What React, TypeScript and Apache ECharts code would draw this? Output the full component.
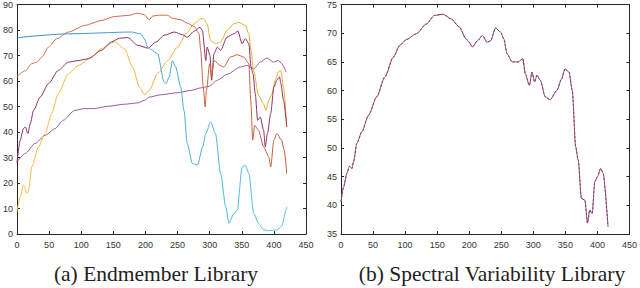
import React, { useEffect, useRef } from "react";
import * as echarts from "echarts";

// ---- Left panel: Endmember Library ----
const blueX = [0, 80, 178, 193, 198, 204, 209, 219, 229, 232, 237, 242, 247, 255, 260, 265, 273, 281, 289, 294, 301.5, 309, 317, 325, 330, 337.6, 343, 350.5, 355.7, 361, 368.6, 376, 384, 394, 404.6, 412, 419, 420];
const blueY = [77, 78.5, 79.2, 78.5, 76.6, 73.3, 72.3, 70.7, 59.6, 59, 61.6, 68, 65.5, 57.6, 48.5, 35.5, 27.7, 27, 34, 39.4, 44, 39.4, 23.7, 10.7, 4.2, 8, 9.4, 26.3, 27, 23.7, 8, 4.2, 1.6, 1.3, 1.6, 2.9, 9.4, 10.7];

const orangeX = [0, 13, 23, 31, 38.7, 49, 62, 80, 105.7, 131, 152, 172.7, 188, 198.5, 206, 211, 219, 234.5, 242, 255, 265, 275.8, 283.5, 286, 290, 293, 295, 300, 303, 306.7, 317, 322, 332.5, 343, 353, 361, 364, 367, 370, 376, 384, 392, 395, 400, 404.6, 412, 416, 420];
const orangeY = [61.8, 64, 66.8, 67.4, 69.4, 73.3, 76.6, 79.2, 81.8, 83.7, 85.3, 85.7, 86.6, 86, 84, 85.4, 85.8, 85.8, 84.6, 84, 82.7, 81.4, 78.5, 72, 57.6, 49.8, 56.3, 66.8, 61.6, 68, 66, 65.5, 69.4, 70.3, 69.4, 66.8, 52.4, 36.8, 42.6, 40.7, 34.2, 30.3, 26.3, 36.8, 39.4, 36.8, 32.9, 23.7];

const yellowX = [0, 5, 10, 15.5, 18, 23, 33.5, 43.8, 54, 64, 80, 95, 116, 131, 152, 167.5, 180, 190.7, 198.5, 206, 219, 234.5, 250, 263, 276, 286, 291, 296, 301.5, 309, 317, 327, 337.6, 345, 355.7, 361, 364.4, 368.6, 376, 384, 387.6, 392, 397, 402, 407, 410.8, 415, 420];
const yellowY = [8.7, 14.6, 19.2, 15.9, 17.2, 26.3, 34.2, 39.4, 47.2, 55, 62.9, 66, 69.4, 72.6, 75.3, 72.6, 65.5, 57.6, 54.6, 56.3, 62.9, 68, 73.3, 78.5, 82.4, 84.4, 84.4, 82.4, 75.9, 74.6, 75.3, 79.8, 82.4, 83, 81.8, 78.5, 72, 64, 54.4, 51, 48.5, 52.4, 55, 60.3, 63.5, 64.1, 57.6, 42];

const purpleX = [0, 5, 10, 13, 17, 20.6, 25.8, 36, 49, 64.4, 80, 95, 110.8, 131, 147, 160, 172.7, 188, 204, 216.5, 229, 245, 258, 265, 276, 285, 288.7, 294, 296, 300.5, 303, 306.7, 312, 317, 327, 337.6, 343.8, 350.5, 355.7, 361, 364.4, 367.5, 371, 374.7, 378.8, 384, 386.6, 390, 395, 400, 404.6, 408.8, 410.8, 415, 420];
const purpleY = [28, 36.8, 41.3, 42, 39.4, 43.3, 48.5, 53.7, 59, 64.2, 67.4, 68, 68.7, 72, 75.3, 76.8, 77, 74, 72.9, 75.3, 77.9, 79.2, 78.1, 77.2, 79.6, 81.1, 79.8, 68, 73.3, 70, 60.3, 70.7, 73.3, 72, 77.2, 78.5, 79.6, 74.6, 76.6, 74.6, 65.5, 62.9, 55, 44.6, 45.9, 40.7, 34.2, 39.4, 47.2, 57.6, 60.3, 61.6, 59, 52.4, 42];

const violetX = [0, 13, 28, 43.8, 59, 72, 90, 105.7, 121, 141.8, 167.5, 188, 198.5, 206, 224, 250, 270.6, 286, 299, 312, 327, 348, 358, 368.6, 378.8, 389, 399.5, 407, 412, 419];
const violetY = [28.3, 31.6, 35.5, 38.7, 41.3, 44.6, 48.5, 49.2, 49.2, 50.1, 50.9, 51.4, 52.4, 53.7, 54.6, 55.4, 56.3, 57.3, 57.9, 60.3, 62.6, 65.5, 66.1, 64.8, 67.4, 69, 67.4, 68.1, 66.8, 63.5];

// ---- Right panel: Spectral Variability Library ----
const varX = [0, 4, 9.3, 13, 17, 19.6, 24.7, 32.5, 43, 55.7, 68.6, 81.4, 91.8, 102, 117.5, 133, 146, 159, 171.6, 184.5, 195, 200, 205, 213, 220.6, 228, 233.5, 241, 249, 254, 259, 267, 277, 283.5, 287.6, 293.8, 297.9, 302, 305.7, 310.8, 318.6, 326.3, 336.6, 344, 349.5, 355.7, 360.8, 366, 370, 375, 380.4, 384.5, 388, 391.8, 395.9, 400, 405, 408.8, 416.5];
const varY = [40.6, 43.2, 45.6, 46.8, 46.4, 47.6, 50.8, 52.8, 55.7, 58.9, 62.4, 65.8, 67.9, 68.9, 69.9, 71.6, 73.1, 73.3, 72.5, 71.1, 69, 68.4, 67.6, 68.7, 69.6, 68.4, 68.7, 70.9, 70.2, 69, 66.4, 65, 65, 65.6, 62.9, 60.9, 63.2, 61.5, 62.7, 61.8, 58.9, 58.4, 60, 62, 63.8, 63.2, 60, 50.2, 47.9, 41.2, 40.9, 36.9, 39.2, 38.6, 44.1, 45, 46.4, 45.6, 36.3];

const xTicks = { min: 0, max: 450, interval: 50 };
const leftY = { min: 0, max: 90, interval: 10 };
const rightY = { min: 35, max: 75, interval: 5 };
const captions = ["(a) Endmember Library", "(b) Spectral Variability Library"];

const pairs = (xs: number[], ys: number[]) => xs.map((x, i) => [x, ys[i]]);

const axisColor = "#262626";
const labelFont = { fontFamily: "Liberation Sans", fontSize: 9, color: "#333" };

function xAxis(grid: number, pos: "bottom" | "top", show: boolean) {
  return {
    type: "value",
    gridIndex: grid,
    position: pos,
    ...xTicks,
    axisLine: { show: true, onZero: false, lineStyle: { color: axisColor, width: 1 } },
    axisTick: { show: true, inside: true, length: 3, lineStyle: { color: axisColor } },
    axisLabel: { show, margin: 6, ...labelFont },
    splitLine: { show: false },
  };
}
function yAxis(grid: number, pos: "left" | "right", show: boolean, r: any) {
  return {
    type: "value",
    gridIndex: grid,
    position: pos,
    ...r,
    axisLine: { show: true, onZero: false, lineStyle: { color: axisColor, width: 1 } },
    axisTick: { show: true, inside: true, length: 3, lineStyle: { color: axisColor } },
    axisLabel: { show, margin: 4, ...labelFont },
    splitLine: { show: false },
  };
}

function grad(c1: string, c2: string) {
  return new echarts.graphic.LinearGradient(0, 0, 1, 0, [
    { offset: 0, color: c1 },
    { offset: 1, color: c2 },
  ]);
}

function line(data: number[][], color: any, xi: number, yi: number, extra: any = {}) {
  return {
    type: "line",
    xAxisIndex: xi,
    yAxisIndex: yi,
    data,
    showSymbol: false,
    symbol: "none",
    smooth: 0.25,
    smoothMonotone: "x",
    lineStyle: { color, width: 1, ...extra },
    z: 3,
  };
}

function caption(text: string, x: number) {
  return {
    type: "text",
    x,
    y: 274,
    style: {
      text,
      fontFamily: "Liberation Serif",
      fontSize: 21.5,
      fill: "#222",
      align: "center",
      verticalAlign: "middle",
    },
  };
}

export default function App() {
  const ref = useRef<HTMLDivElement>(null);
  useEffect(() => {
    if (!ref.current) return;
    const chart = echarts.init(ref.current, null, { renderer: "svg" });
    chart.setOption({
      animation: false,
      backgroundColor: "#ffffff",
      grid: [
        { left: 15, right: 334, top: 4, bottom: 54 },
        { left: 341, right: 8, top: 4, bottom: 54 },
      ],
      xAxis: [xAxis(0, "bottom", true), xAxis(0, "top", false), xAxis(1, "bottom", true), xAxis(1, "top", false)],
      yAxis: [
        yAxis(0, "left", true, leftY),
        yAxis(0, "right", false, leftY),
        yAxis(1, "left", true, rightY),
        yAxis(1, "right", false, rightY),
      ],
      series: [
        line(pairs(violetX, violetY), "#9a5a9e", 0, 0),
        line(pairs(yellowX, yellowY), grad("#f2c04a", "#eaa62e"), 0, 0),
        line(pairs(purpleX, purpleY), "#8a2f6a", 0, 0),
        line(pairs(orangeX, orangeY), grad("#d8764a", "#c2583a"), 0, 0),
        line(pairs(blueX, blueY), grad("#3a86bd", "#52c4ea"), 0, 0),
        line(pairs(varX, varY), "#b8455a", 2, 2),
        line(pairs(varX, varY), "#5a4a96", 2, 2, { type: [2, 2] }),
      ],
      graphic: [caption(captions[0], 156), caption(captions[1], 492)],
    });
    return () => chart.dispose();
  }, []);
  return <div ref={ref} style={{ position: "fixed", left: 0, top: 0, width: 640, height: 288 }} />;
}
